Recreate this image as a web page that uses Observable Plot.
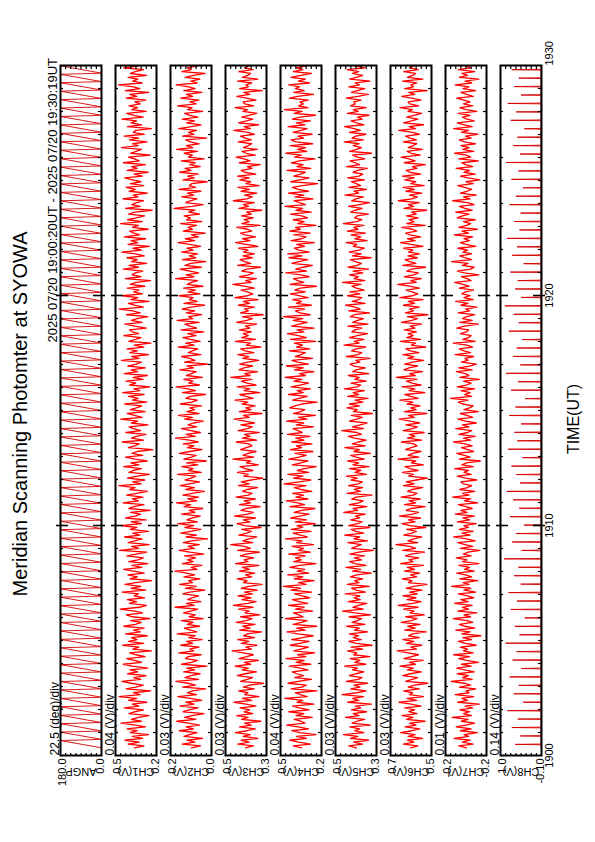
<!DOCTYPE html>
<html><head><meta charset="utf-8">
<script src="https://cdn.jsdelivr.net/npm/d3@7"></script>
<script src="https://cdn.jsdelivr.net/npm/@observablehq/plot@0.6"></script>
<style>
html,body{margin:0;padding:0;background:#fff;width:595px;height:842px;overflow:hidden;}
#land{position:absolute;left:0;top:0;width:842px;height:595px;transform-origin:0 0;transform:translate(0px,842px) rotate(-90deg);font-family:"Liberation Sans",Arial,sans-serif;}
.t{position:absolute;line-height:1;white-space:nowrap;color:#000;}
</style></head><body><div id="land"></div>
<script>
// ---------------- data ----------------
const title = "Meridian Scanning Photomter at SYOWA";
const subtitle = "2025 07/20 19:00:20UT - 2025 07/20 19:30:19UT";
const xTitle = "TIME(UT)";
const channels = ["ANGP","CH1(V)","CH2(V)","CH3(V)","CH4(V)","CH5(V)","CH6(V)","CH7(V)","CH8(V)"];
const perDivText = ["22.5 (deg)/div","0.04 (V)/div","0.03 (V)/div","0.03 (V)/div","0.04 (V)/div","0.03 (V)/div","0.03 (V)/div","0.01 (V)/div","0.14 (V)/div"];
const divSize = [22.5,0.04,0.03,0.03,0.04,0.03,0.03,0.01,0.14];
const yBottom = [0,0.20,0.00,0.30,0.20,0.30,0.50,-0.24,-0.10];
const topLabels = ["180.0","0.5","0.2","0.5","0.5","0.5","0.7","-0.2","1.0"];
const bottomLabels = ["0.0","0.2","0.0","0.3","0.2","0.3","0.5","-0.2","-0.10"];
const timeTickSec = [0,600,1200,1800];          // seconds after 19:00:00 UT
const timeTickLabels = ["1900","1910","1920","1930"];
const sampleStart = 20, sampleEnd = 1799;        // 19:00:20 .. 19:30:19

// scan start times (s after 19:00); each scan sweeps 0 -> 180 deg then returns
const scanStartSec = [20,42,64,86,108,130,152,174,196,218,240,262,284,306,328,350,372,394,416,438,460,482,504,526,548,570,592,614,636,658,680,702,724,746,768,790,812,834,856,878,900,922,944,966,988,1010,1032,1054,1076,1098,1120,1142,1164,1186,1208,1230,1252,1274,1296,1318,1340,1362,1384,1406,1428,1450,1472,1494,1516,1538,1560,1582,1604,1626,1648,1670,1692,1714,1736,1758,1780];
const scanSweepSec = 19;
const angLow = 0, angHigh = 180;

// photometer channels, mV
const ch1 = [372,298,421,335,446,310,389,262,405,351,430,287,364,477,318,396,342,258,414,369,
301,452,337,389,276,418,355,492,329,381,246,437,360,304,399,470,323,378,281,425,
347,406,268,391,459,316,373,432,289,358,410,241,385,337,463,300,418,352,395,272,
441,326,380,297,455,364,318,402,251,388,435,309,367,484,331,279,412,356,427,293,
375,340,468,284,399,322,446,361,237,407,350,423,296,379,457,314,392,268,416,345,
303,431,359,276,488,338,394,257,421,372,311,449,330,385,264,405,353,476,317,398,
282,440,366,325,403,249,416,377,298,462,341,389,307,433,355,271,410,368,493,320,
386,292,427,349,255,414,381,318,456,337,401,274,365,442,308,390,351,229,419,372,
334,467,301,395,359,283,438,323,380,414,266,397,346,479,312,371,428,289,404,356,
315,448,276,388,342,419,297,463,330,376,253,411,362,437,305,383,271,452,348,399,
287,424,359,317,473,336,392,262,408,351,430,298,375,244,416,364,321,455,339,387,
410,280,369,447,313,396,352,268,434,327,385,491,304,372,420,259,401,345,466,310,
379,336,428,291,405,358,247,443,322,390,367,306,459,341,414,277,395,350,431,296,
363,471,318,384,256,422,346,399,285,451,332,377,409,264,388,340,480,311,426,357,
293,417,370,234,441,328,393,355,302,462,345,382,271,413,366,437,299,404,322,389,
448,310,376,266,429,351,394,287,458,335,372,419,249,401,360,318,473,343,386,274,
411,339,452,296,381,363,240,427,316,398,356,469,305,375,433,281,392,348,415,327,
369,283,436,354,408,261,444,331,379,497,312,386,345,422,278,403,367,300,457,338];
const ch2 = [118,64,172,97,143,52,161,129,85,188,106,149,71,135,203,92,157,113,44,166,
131,79,184,102,150,58,125,197,88,141,111,34,169,94,138,208,76,155,120,67,
163,99,145,27,176,117,83,152,136,61,191,104,128,73,180,110,146,55,133,96,
200,86,124,159,69,142,108,177,49,132,95,164,121,81,213,101,147,62,139,115,
75,168,127,39,153,90,186,112,134,68,161,98,145,214,84,119,57,171,107,140,
93,158,46,126,189,101,137,72,165,115,24,148,88,179,123,63,156,104,196,82,
144,111,66,174,97,131,51,160,122,205,87,139,76,167,114,42,150,100,183,129,
70,154,119,92,198,61,135,108,173,80,146,30,162,117,89,188,126,56,141,103,
166,78,130,211,95,149,65,121,176,86,138,105,48,157,112,193,74,144,99,127,
59,182,116,83,151,124,36,170,94,139,207,71,133,109,162,54,147,118,89,185,
106,143,20,158,97,128,175,63,136,113,80,194,102,152,67,123,168,91,140,45,
178,87,125,156,73,201,110,134,58,147,98,172,119,40,161,84,130,107,189,68,
137,95,163,50,142,116,81,210,103,149,75,127,184,60,155,121,33,170,92,131,
82,175,108,144,64,128,196,99,153,77,118,37,165,111,137,87,181,57,146,123,
160,69,132,97,219,114,49,151,125,85,174,104,141,62,190,93,130,116,26,167,
101,140,78,186,120,155,66,127,95,177,43,136,112,160,83,204,109,148,72,124,
152,29,169,103,134,88,192,117,61,145,99,171,79,128,157,52,139,114,199,90,
126,74,180,110,147,56,162,96,133,207,85,121,68,154,105,38,173,119,143,81];
const ch3 = [423,376,468,402,449,351,437,395,482,414,366,458,389,428,333,446,407,474,380,431,
398,455,362,419,490,386,441,344,427,409,463,372,436,399,318,452,413,381,471,425,
359,443,406,484,392,430,347,461,416,377,437,501,388,421,356,447,403,468,370,434,
412,329,457,396,439,368,477,418,385,451,340,426,402,463,379,493,410,361,444,391,
467,383,429,354,448,405,326,436,414,472,387,423,369,458,399,442,345,481,408,432,
375,453,418,341,469,394,427,509,381,439,403,357,462,416,388,445,332,428,473,397,
436,364,487,411,376,449,421,337,458,393,431,366,478,407,384,440,415,352,464,401,
448,389,322,433,406,470,379,425,455,348,417,392,496,374,437,410,361,452,419,385,
404,476,358,441,397,429,343,466,412,383,450,370,426,489,401,435,327,459,390,422,
367,443,409,485,378,420,456,339,431,398,472,361,414,447,386,508,395,428,353,461,
432,381,457,410,346,439,403,467,374,424,451,333,418,393,482,365,445,407,437,388,
459,397,424,358,475,415,382,441,320,453,406,429,372,464,399,436,349,485,411,380,
413,449,371,430,497,389,422,360,458,404,377,445,416,335,468,392,427,455,383,438,
371,434,408,463,350,419,481,396,440,364,426,452,387,411,474,338,445,402,431,378,
446,389,417,328,461,405,436,372,494,415,383,429,357,449,400,467,343,421,392,456,
401,470,363,427,448,385,412,337,459,396,432,478,366,419,443,354,436,408,386,465,
389,425,452,371,408,491,394,431,346,463,417,380,445,403,357,438,412,484,375,427,
437,362,416,474,398,433,325,457,406,420,386,469,351,441,410,393,462,378,429,404];
const ch4 = [355,421,286,379,448,317,396,243,368,432,301,384,472,329,361,413,272,399,338,455,
297,374,426,259,391,346,487,312,365,404,236,437,352,319,461,383,278,409,341,392,
428,305,367,451,284,398,335,476,322,387,253,415,359,302,444,370,296,433,348,265,
386,469,327,394,238,421,356,313,482,344,377,419,269,403,336,458,308,375,427,291,
349,410,277,438,363,497,320,381,257,412,345,463,299,389,331,446,372,244,417,358,
403,326,456,287,378,341,429,263,395,352,481,311,366,422,282,436,347,391,249,405,
317,439,368,298,414,354,252,447,333,386,475,306,399,340,426,276,362,412,321,493,
371,283,418,345,462,300,389,334,241,428,361,305,454,376,318,407,267,443,355,396,
275,432,337,401,290,466,350,383,423,262,397,339,472,314,380,248,419,364,330,449,
408,356,234,425,378,311,457,343,390,286,436,367,301,415,353,484,324,371,259,411,
342,474,303,387,430,270,405,361,326,451,293,394,348,413,246,441,318,382,466,337,
391,258,433,374,312,420,346,498,289,368,404,331,459,279,396,357,425,305,378,444,
327,409,366,239,446,339,385,419,297,362,478,316,401,343,271,431,374,308,453,350,
463,296,378,412,332,394,255,437,357,320,416,288,448,365,403,244,387,336,421,309,
354,442,281,399,347,486,325,372,414,266,407,338,458,302,381,427,349,229,440,368,
298,417,363,325,469,284,392,344,435,373,251,410,356,477,315,388,323,445,269,401,
437,340,384,273,422,359,313,461,330,396,287,428,367,247,413,351,490,306,379,343,
369,304,450,388,262,416,335,403,371,455,293,381,326,439,358,277,420,345,397,316];
const ch5 = [418,462,381,435,347,452,409,493,374,428,399,456,336,443,413,369,481,402,437,358,
447,392,425,330,468,405,439,376,501,414,361,450,396,432,352,477,408,385,459,421,
374,440,411,486,363,427,397,455,339,434,416,470,381,448,326,419,462,389,436,405,
458,352,429,401,474,368,443,412,387,460,335,424,499,378,438,406,357,466,395,431,
397,483,365,419,446,343,471,403,428,380,453,416,331,440,392,478,361,426,457,387,
430,371,455,404,318,446,417,389,467,353,432,398,486,375,421,449,340,463,410,384,
451,398,423,366,492,411,437,357,459,403,378,445,420,327,472,394,430,381,464,407,
383,448,412,475,359,426,391,457,344,438,404,469,372,419,451,336,433,400,485,366,
442,407,361,430,464,388,415,503,376,441,396,356,458,417,383,447,324,435,412,473,
400,459,380,426,349,468,405,437,371,488,414,392,449,360,427,401,465,345,439,419,
366,433,455,397,421,338,477,409,386,446,418,363,490,402,430,374,458,413,352,444,
426,385,467,350,439,410,376,453,429,341,462,395,425,481,367,442,405,386,470,397,
455,372,418,444,391,499,368,431,406,458,380,437,347,466,413,389,424,453,332,441,
389,460,403,371,436,415,478,356,427,392,449,365,471,408,433,375,495,417,386,428,
414,347,451,425,384,463,398,341,445,420,377,484,404,432,359,461,393,418,447,371,
468,403,380,438,411,354,475,399,426,455,369,412,440,329,457,416,388,436,402,489,
377,443,421,362,458,395,430,487,374,417,449,384,411,344,470,407,436,361,452,424,
433,390,476,409,348,447,413,369,462,400,425,339,456,419,381,441,404,472,367,428];
const ch6 = [622,580,665,603,641,553,637,596,681,614,569,654,590,628,538,647,608,672,585,633,
598,657,561,619,690,587,643,547,628,610,663,572,636,599,522,651,613,581,668,625,
559,641,606,684,594,630,549,661,617,576,637,701,588,621,557,647,603,668,571,634,
612,531,657,596,639,567,677,618,585,651,542,626,602,663,579,695,610,561,644,591,
667,583,629,555,648,605,527,636,614,672,587,623,569,658,599,642,546,681,608,632,
575,653,618,541,669,594,627,708,581,639,603,557,662,616,588,645,534,628,673,597,
636,564,687,611,576,649,621,538,658,593,631,566,678,607,584,640,615,552,664,601,
648,589,524,633,606,670,579,625,655,548,617,592,696,574,637,610,561,652,619,585,
604,676,558,641,597,629,543,666,612,583,650,570,626,689,601,635,528,659,590,622,
567,643,609,685,578,620,656,539,631,598,672,561,614,647,586,706,595,628,553,661,
632,581,657,610,546,639,603,667,574,624,651,533,618,593,682,565,645,607,637,588,
659,597,624,558,675,615,582,641,521,653,606,629,572,664,599,636,549,685,611,580,
613,649,571,630,697,589,622,560,658,604,577,645,616,535,668,592,627,655,583,638,
571,634,608,663,550,619,681,596,640,564,626,652,587,611,674,538,645,602,631,578,
646,589,617,528,661,605,636,572,694,615,583,629,557,649,600,667,543,621,592,656,
601,670,563,627,648,585,612,537,659,596,632,678,566,619,643,554,636,608,586,665,
589,625,652,571,608,691,594,631,546,663,617,580,645,603,557,638,612,684,575,627,
637,562,616,674,598,633,525,657,606,620,586,669,551,641,610,593,662,578,629,604];
const ch7 = [-201,-186,-214,-193,-208,-177,-205,-196,-222,-189,-210,-181,-199,-217,-191,-204,-173,-211,-195,-207,
-188,-213,-198,-226,-184,-203,-192,-215,-179,-206,-200,-219,-187,-209,-196,-171,-212,-193,-205,-183,
-216,-197,-182,-210,-191,-224,-201,-186,-207,-176,-214,-195,-203,-189,-220,-199,-185,-211,-194,-229,
-192,-208,-180,-217,-198,-187,-213,-202,-175,-209,-196,-221,-184,-205,-193,-212,-178,-204,-190,-215,
-203,-185,-219,-196,-209,-172,-206,-194,-223,-188,-211,-199,-182,-216,-197,-207,-186,-225,-193,-202,
-181,-210,-195,-204,-227,-189,-213,-198,-184,-218,-201,-176,-208,-192,-214,-187,-205,-196,-220,-183,
-207,-194,-216,-179,-202,-190,-212,-200,-185,-223,-197,-209,-174,-206,-193,-217,-188,-203,-211,-195,
-190,-221,-199,-183,-210,-196,-205,-178,-214,-192,-201,-228,-187,-208,-197,-182,-215,-204,-191,-212,
-198,-176,-209,-195,-218,-186,-203,-211,-180,-206,-193,-220,-199,-184,-213,-202,-189,-224,-196,-207,
-214,-193,-185,-204,-170,-211,-197,-208,-190,-217,-183,-201,-210,-195,-226,-188,-206,-199,-181,-212,
-186,-207,-220,-191,-204,-198,-215,-179,-209,-196,-187,-213,-202,-175,-218,-194,-205,-210,-189,-201,
-205,-182,-197,-224,-188,-212,-193,-201,-217,-185,-207,-199,-221,-190,-204,-180,-214,-196,-208,-192,
-199,-215,-187,-206,-194,-178,-210,-202,-191,-225,-197,-183,-209,-216,-193,-204,-172,-211,-198,-188,
-211,-194,-203,-184,-219,-200,-189,-207,-196,-213,-177,-205,-192,-222,-186,-201,-209,-195,-218,-183,
-193,-206,-180,-212,-198,-187,-216,-203,-174,-208,-195,-220,-189,-202,-211,-197,-184,-214,-200,-227,
-204,-189,-218,-196,-207,-181,-213,-199,-192,-224,-186,-209,-201,-178,-215,-194,-206,-190,-219,-197,
-187,-210,-199,-223,-191,-205,-176,-212,-197,-183,-216,-202,-193,-208,-185,-221,-200,-188,-213,-195,
-208,-196,-182,-214,-201,-190,-219,-194,-206,-179,-211,-198,-225,-187,-203,-192,-217,-185,-209,-199];
// CH8: baseline level (V) and one peak per scan (V)
const ch8Base = -0.085;
const ch8PeakOffsetSec = 9;
const ch8Peak = [0.62,0.48,0.71,0.55,0.83,0.40,0.66,0.52,0.77,0.45,0.69,0.58,0.88,0.50,0.63,0.36,0.74,0.57,0.80,0.47,
0.65,0.53,0.92,0.44,0.70,0.60,0.38,0.76,0.51,0.67,0.85,0.49,0.59,0.72,0.42,0.81,0.56,0.64,0.46,0.78,
0.61,0.35,0.73,0.54,0.87,0.48,0.68,0.58,0.43,0.79,0.52,0.66,0.90,0.45,0.62,0.55,0.75,0.39,0.70,0.57,
0.84,0.50,0.64,0.47,0.77,0.60,0.41,0.72,0.53,0.86,0.49,0.67,0.56,0.37,0.74,0.59,0.82,0.46,0.65,0.52,0.71];

// ---------------- build series ----------------
function series(vals, scale) {
  const n = vals.length;
  return vals.map((v, i) => ({t: sampleStart + i * (sampleEnd - sampleStart) / (n - 1), v: v * scale}));
}
const angSeries = [];
scanStartSec.forEach(s => { angSeries.push({t: s, v: angLow}, {t: Math.min(s + scanSweepSec, sampleEnd), v: angHigh}); });
const ch8Series = [{t: sampleStart, v: ch8Base}];
ch8Peak.forEach((p, i) => {
  const t = scanStartSec[i] + ch8PeakOffsetSec;
  ch8Series.push({t: t - 1, v: ch8Base}, {t, v: p}, {t: t + 1, v: ch8Base});
});
ch8Series.push({t: sampleEnd, v: ch8Base});
const allSeries = [angSeries, series(ch1, 1e-3), series(ch2, 1e-3), series(ch3, 1e-3), series(ch4, 1e-3),
  series(ch5, 1e-3), series(ch6, 1e-3), series(ch7, 1e-3), ch8Series];

// ---------------- layout ----------------
const W = 842, ML = 86, MR = 66, PH = 41, PITCH = 55, TOP0 = 60, MT = 14;
const IW = W - ML - MR;
const land = document.getElementById("land");
function htmlText(txt, left, top, size, align) {
  const d = document.createElement("div");
  d.className = "t"; d.textContent = txt; d.style.fontSize = size + "px"; d.style.top = top + "px";
  if (align === "center") { d.style.left = left + "px"; d.style.transform = "translateX(-50%)"; }
  else if (align === "right") { d.style.right = (W - left) + "px"; }
  else d.style.left = left + "px";
  land.appendChild(d);
}
htmlText(title, 428, 10, 20, "center");
htmlText(subtitle, 784, 46, 13, "right");
htmlText(xTitle, 423, 566, 16, "center");

const minorSec = d3.range(0, 1801, 60).filter(s => s % 600 !== 0);
const majorSec = [600, 1200];

channels.forEach((name, k) => {
  const y0 = yBottom[k], y1 = yBottom[k] + 8 * divSize[k];
  const divs = d3.range(1, 8).map(j => y0 + j * divSize[k]);
  const last = k === channels.length - 1;
  const color = (k === 0 || k === 8) ? "#d40000" : "#ff0000";
  const sw = (k === 0 || k === 8) ? 0.9 : 1.3;
  const marks = [
    Plot.line(allSeries[k], {x: "t", y: "v", stroke: color, strokeWidth: sw, clip: true}),
    Plot.tickX(minorSec, {x: d => d, insetBottom: PH - 3, stroke: "black", strokeWidth: 1.2}),
    Plot.tickX(minorSec, {x: d => d, insetTop: PH - 3, stroke: "black", strokeWidth: 1.2}),
    Plot.tickX(majorSec, {x: d => d, insetTop: -4, insetBottom: PH - 8, stroke: "black", strokeWidth: 1.6}),
    Plot.tickX(majorSec, {x: d => d, insetTop: PH - 8, insetBottom: -4, stroke: "black", strokeWidth: 1.6}),
    Plot.tickY(divs, {y: d => d, insetRight: IW - 3, stroke: "black", strokeWidth: 1.2}),
    Plot.tickY(divs, {y: d => d, insetLeft: IW - 3, stroke: "black", strokeWidth: 1.2}),
    Plot.frame({stroke: "black", strokeWidth: 2}),
    Plot.text([perDivText[k]], {frameAnchor: "top-left", textAnchor: "start", lineAnchor: "bottom", dy: -2, fontSize: 12}),
    Plot.text([topLabels[k]], {frameAnchor: "top-left", textAnchor: "end", lineAnchor: "top", dx: -3, dy: -2, fontSize: 11}),
    Plot.text([bottomLabels[k]], {frameAnchor: "bottom-left", textAnchor: "end", lineAnchor: "bottom", dx: -3, dy: 2, fontSize: 11}),
    Plot.text([name], {frameAnchor: "left", rotate: -90, textAnchor: "middle", dx: -16, fontSize: 11})
  ];
  if (last) {
    marks.push(Plot.text(timeTickSec.slice(0, 3), {x: d => d, text: (d, i) => timeTickLabels[i], frameAnchor: "bottom", lineAnchor: "top", dy: 4, fontSize: 11}));
    marks.push(Plot.text(timeTickSec.slice(3), {x: d => d, text: (d, i) => timeTickLabels[i + 3], frameAnchor: "bottom", textAnchor: "start", lineAnchor: "top", dy: 4, fontSize: 11}));
  }
  const svg = Plot.plot({
    width: W, height: MT + PH + (last ? 20 : 0),
    marginLeft: ML, marginRight: MR, marginTop: MT, marginBottom: last ? 20 : 0,
    x: {domain: [0, 1800], axis: null},
    y: {domain: [y0, y1], axis: null},
    style: {background: "transparent", overflow: "visible", fontFamily: "Liberation Sans, Arial, sans-serif"},
    marks
  });
  svg.style.position = "absolute";
  svg.style.left = "0px";
  svg.style.top = (TOP0 + k * PITCH - MT) + "px";
  land.appendChild(svg);
});
</script></body></html>
